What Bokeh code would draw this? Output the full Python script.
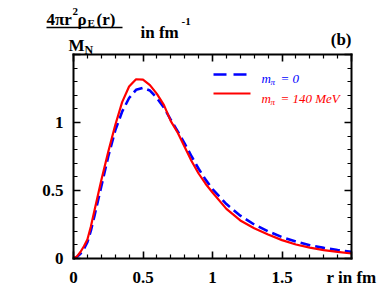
from bokeh.plotting import figure
from bokeh.models import (Range1d, FixedTicker, LinearAxis, Label, Arrow)
from bokeh.embed import file_html
from bokeh.resources import INLINE
import numpy as np

# ---- data ----
r_fm = [0, 0.025, 0.05, 0.075, 0.1, 0.125, 0.15, 0.2, 0.25, 0.3, 0.35, 0.4, 0.45,
        0.5, 0.55, 0.6, 0.65, 0.7, 0.75, 0.8, 0.85, 0.9, 0.95, 1.0, 1.1, 1.2, 1.3,
        1.4, 1.5, 1.6, 1.7, 1.8, 1.9, 2.0]
rho_m0 = [0, 0.012, 0.035, 0.07, 0.12, 0.205, 0.31, 0.53, 0.75, 0.94, 1.08, 1.18,
          1.24, 1.255, 1.235, 1.18, 1.11, 1.02, 0.935, 0.845, 0.75, 0.66, 0.58,
          0.51, 0.40, 0.315, 0.25, 0.20, 0.157, 0.125, 0.098, 0.078, 0.062, 0.049]
rho_m140 = [0, 0.016, 0.048, 0.09, 0.14, 0.235, 0.35, 0.575, 0.785, 0.98, 1.15,
            1.265, 1.318, 1.315, 1.275, 1.21, 1.13, 1.01, 0.925, 0.82, 0.715, 0.625,
            0.55, 0.485, 0.365, 0.28, 0.222, 0.176, 0.135, 0.103, 0.080, 0.062,
            0.049, 0.037]

x_ticks = [0, 0.5, 1, 1.5, 2]
x_tick_labels = ["0", "0.5", "1", "1.5", "r in fm"]
y_ticks = [0, 0.5, 1]
y_tick_labels = ["0", "0.5", "1"]
X_MIN, X_MAX = 0, 2
Y_MIN, Y_MAX = 0, 1.5

FONT = "Liberation Serif"
BLUE = "#0000ff"
RED = "#ff0000"

# canvas and plot-box geometry in picture pixels
CW, CH = 380, 292
BOX_L, BOX_R, BOX_T, BOX_B = 73, 351, 54, 258
sxu = (BOX_R - BOX_L) / (X_MAX - X_MIN)   # px per x unit
syu = (BOX_B - BOX_T) / (Y_MAX - Y_MIN)   # px per y unit

p = figure(frame_width=CW, frame_height=CH, output_backend="svg",
           toolbar_location=None,
           x_range=Range1d(X_MIN - BOX_L / sxu, X_MAX + (CW - BOX_R) / sxu),
           y_range=Range1d(Y_MIN - (CH - BOX_B) / syu, Y_MAX + BOX_T / syu),
           min_border=0, x_axis_location=None, y_axis_location=None)
p.grid.visible = False
p.outline_line_color = None
p.background_fill_color = "white"
p.border_fill_color = "white"

xminor = [round(v, 2) for v in np.arange(0.1, 2.0, 0.1) if abs(v * 2 - round(v * 2)) > 1e-6]
yminor = [round(v, 2) for v in np.arange(0.1, 1.5, 0.1) if abs(v * 2 - round(v * 2)) > 1e-6]
xt = FixedTicker(ticks=x_ticks, minor_ticks=xminor)
yt = FixedTicker(ticks=y_ticks + [1.5], minor_ticks=yminor)


def style(ax, inward=True):
    ax.axis_line_width = 2
    ax.axis_line_color = "black"
    ax.axis_line_cap = "square"
    ax.major_tick_line_width = 1.6
    ax.minor_tick_line_width = 1.2
    if inward:
        ax.major_tick_in, ax.major_tick_out = 7, 0
        ax.minor_tick_in, ax.minor_tick_out = 4, 0
    else:
        ax.major_tick_in, ax.major_tick_out = 0, 7
        ax.minor_tick_in, ax.minor_tick_out = 0, 4
    ax.major_label_text_font = FONT
    ax.major_label_text_font_style = "bold"
    ax.major_label_text_font_size = "17px"
    ax.major_label_text_color = "black"


# bottom axis
xb = LinearAxis(ticker=xt, fixed_location=Y_MIN, bounds=(X_MIN, X_MAX))
style(xb)
xb.major_label_overrides = {t: l for t, l in zip(x_ticks, x_tick_labels)}
xb.major_label_standoff = 9
p.add_layout(xb, "below")

# top mirror (drawn by a 'below' axis at the top with outward = downward ticks)
xa = LinearAxis(ticker=xt, fixed_location=Y_MAX, bounds=(X_MIN, X_MAX))
style(xa, inward=False)
xa.major_label_text_color = None
p.add_layout(xa, "below")

# left axis
yl = LinearAxis(ticker=yt, fixed_location=X_MIN, bounds=(Y_MIN, Y_MAX))
style(yl)
yd = {t: l for t, l in zip(y_ticks, y_tick_labels)}
yd[1.5] = ""
yl.major_label_overrides = yd
yl.major_label_standoff = 10
p.add_layout(yl, "left")

# right mirror (a 'left' axis at the right edge with outward = leftward ticks)
yr = LinearAxis(ticker=yt, fixed_location=X_MAX, bounds=(Y_MIN, Y_MAX))
style(yr, inward=False)
yr.major_label_text_color = None
p.add_layout(yr, "left")

p.line(r_fm, rho_m0, line_color=BLUE, line_width=2.6, line_dash="10 5")
p.line(r_fm, rho_m140, line_color=RED, line_width=2.2)


# picture pixel -> data helpers for annotation placement
def dx(px):
    return X_MIN + (px - BOX_L) / sxu


def dy(py):
    return Y_MIN + (BOX_B - py) / syu


def lab(txt, px, py, size, color="black", style="bold", align="left"):
    p.add_layout(Label(x=dx(px), y=dy(py), text=txt, text_font=FONT,
                       text_font_size=f"{size}px", text_font_style=style,
                       text_color=color, text_align=align,
                       text_baseline="alphabetic"))


# y-axis title (fraction)
lab("4\u03c0r", 46, 19, 17)
lab("2", 72, 11, 11)
lab("\u03c1", 77, 19, 17)
lab("E", 87, 22, 11)
lab("(r)", 96, 19, 17)
p.add_layout(Arrow(x_start=dx(46), y_start=dy(27), x_end=dx(122), y_end=dy(27),
                   end=None, line_color="black", line_width=1.3))
lab("M", 68, 45, 17)
lab("N", 84, 49, 12)
lab("in fm", 140, 32, 17)
lab("-1", 181, 21, 11)
lab("(b)", 351, 39, 17, align="right")

# legend
p.add_layout(Arrow(x_start=dx(213), y_start=dy(74), x_end=dx(247), y_end=dy(74),
                   end=None, line_color=BLUE, line_width=2.6, line_dash="13 7"))
p.add_layout(Arrow(x_start=dx(213), y_start=dy(93), x_end=dx(250), y_end=dy(93),
                   end=None, line_color=RED, line_width=2.2))
lab("m", 261, 78, 13, BLUE, "italic")
lab("\u03c0", 270, 81, 9, BLUE, "italic")
lab("= 0", 280, 78, 13, BLUE, "italic")
lab("m", 261, 98, 13, RED, "italic")
lab("\u03c0", 270, 101, 9, RED, "italic")
lab("= 140 MeV", 280, 98, 13, RED, "italic")

open("out.html", "w").write(file_html(p, INLINE))
